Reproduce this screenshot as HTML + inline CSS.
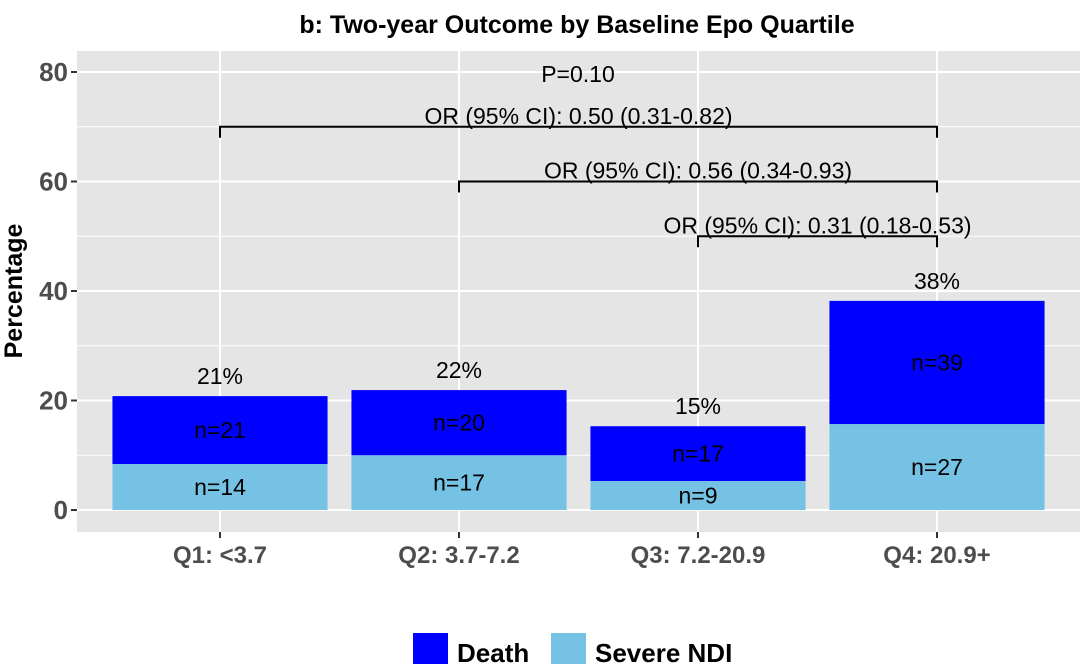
<!DOCTYPE html>
<html><head><meta charset="utf-8"><style>
body{margin:0;background:#fff;}
svg{display:block;font-family:"Liberation Sans",sans-serif;}
</style></head><body>
<svg id="chart" width="1080" height="664">
<text x="577" y="33" text-anchor="middle" font-size="25" font-weight="bold" fill="#000">b: Two-year Outcome by Baseline Epo Quartile</text>
<rect x="77" y="51" width="1003" height="481" fill="#e5e5e5"/>
<g id="grid"></g><g id="bars"></g><g id="annot"></g><g id="axes"></g>
<text transform="translate(22,291) rotate(-90)" text-anchor="middle" font-size="25" font-weight="bold" fill="#000">Percentage</text>
<g>
<rect x="413" y="633" width="35" height="40" fill="#0000ff"/>
<text x="457" y="662" font-size="26" font-weight="bold" fill="#000">Death</text>
<rect x="551" y="633" width="35" height="40" fill="#76c2e4"/>
<text x="595" y="662" font-size="26" font-weight="bold" fill="#000">Severe NDI</text>
</g>
</svg>
<script>
const categories=["Q1: <3.7","Q2: 3.7-7.2","Q3: 7.2-20.9","Q4: 20.9+"];
const severeNDI=[8.4,10,5.3,15.7];
const totalPct=[20.8,21.9,15.3,38.2];
const severeN=["n=14","n=17","n=9","n=27"];
const deathN=["n=21","n=20","n=17","n=39"];
const totalLabels=["21%","22%","15%","38%"];
const yTicks=[0,20,40,60,80];
const brackets=[{from:0,to:3,y:70,label:"OR (95% CI): 0.50 (0.31-0.82)"},{from:1,to:3,y:60,label:"OR (95% CI): 0.56 (0.34-0.93)"},{from:2,to:3,y:50,label:"OR (95% CI): 0.31 (0.18-0.53)"}];
const pLabel="P=0.10";

const NS="http://www.w3.org/2000/svg";
const y0=510,ppu=5.475;
const Y=v=>y0-v*ppu;
const step=239,X=i=>220+i*step,bw=step*0.9;
function mk(tag,attrs,parent,text){const e=document.createElementNS(NS,tag);for(const k in attrs)e.setAttribute(k,attrs[k]);if(text!=null)e.textContent=text;document.getElementById(parent).appendChild(e);return e;}
// grid
for(let v=-0;v<=80;v+=10){const e=mk("line",{x1:77,x2:1080,y1:Y(v),y2:Y(v),stroke:"#fff","stroke-width":v%20===0?2:1},"grid");

}
categories.forEach((c,i)=>{const e=mk("line",{x1:X(i),x2:X(i),y1:51,y2:532,stroke:"#fff","stroke-width":2},"grid");

});
// bars
categories.forEach((c,i)=>{
const a=mk("rect",{x:X(i)-bw/2,y:Y(severeNDI[i]),width:bw,height:Y(0)-Y(severeNDI[i]),fill:"#76c2e4"},"bars");


const b=mk("rect",{x:X(i)-bw/2,y:Y(totalPct[i]),width:bw,height:Y(severeNDI[i])-Y(totalPct[i]),fill:"#0000ff"},"bars");


const t1=mk("text",{x:X(i),y:Y(severeNDI[i]/2)+8,"text-anchor":"middle","font-size":23,fill:"#000"},"bars",severeN[i]);


const t2=mk("text",{x:X(i),y:Y((severeNDI[i]+totalPct[i])/2)+8,"text-anchor":"middle","font-size":23,fill:"#000"},"bars",deathN[i]);


const t3=mk("text",{x:X(i),y:Y(totalPct[i])-12,"text-anchor":"middle","font-size":23,fill:"#000"},"bars",totalLabels[i]);


});
// brackets
brackets.forEach(b=>{
const p=mk("path",{d:`M${X(b.from)},${Y(b.y)+11}V${Y(b.y)}H${X(b.to)}V${Y(b.y)+11}`,fill:"none",stroke:"#000","stroke-width":2},"annot");


const t=mk("text",{x:(X(b.from)+X(b.to))/2+(b.from===2?0:0),y:Y(b.y)-3,"text-anchor":"middle","font-size":23,fill:"#000"},"annot",b.label);


});
const pt=mk("text",{x:578,y:82,"text-anchor":"middle","font-size":23,fill:"#000"},"annot",pLabel);


// axes
yTicks.forEach(v=>{
const l=mk("line",{x1:71,x2:77,y1:Y(v),y2:Y(v),stroke:"#333","stroke-width":2},"axes");


const t=mk("text",{x:68,y:Y(v)+9,"text-anchor":"end","font-size":26,"font-weight":"bold",fill:"#4d4d4d"},"axes",v);


});
categories.forEach((c,i)=>{
const l=mk("line",{x1:X(i),x2:X(i),y1:532,y2:538,stroke:"#333","stroke-width":2},"axes");


const t=mk("text",{x:X(i),y:563,"text-anchor":"middle","font-size":24,"font-weight":"bold",fill:"#4d4d4d"},"axes",c);


});
</script>
</body></html>
